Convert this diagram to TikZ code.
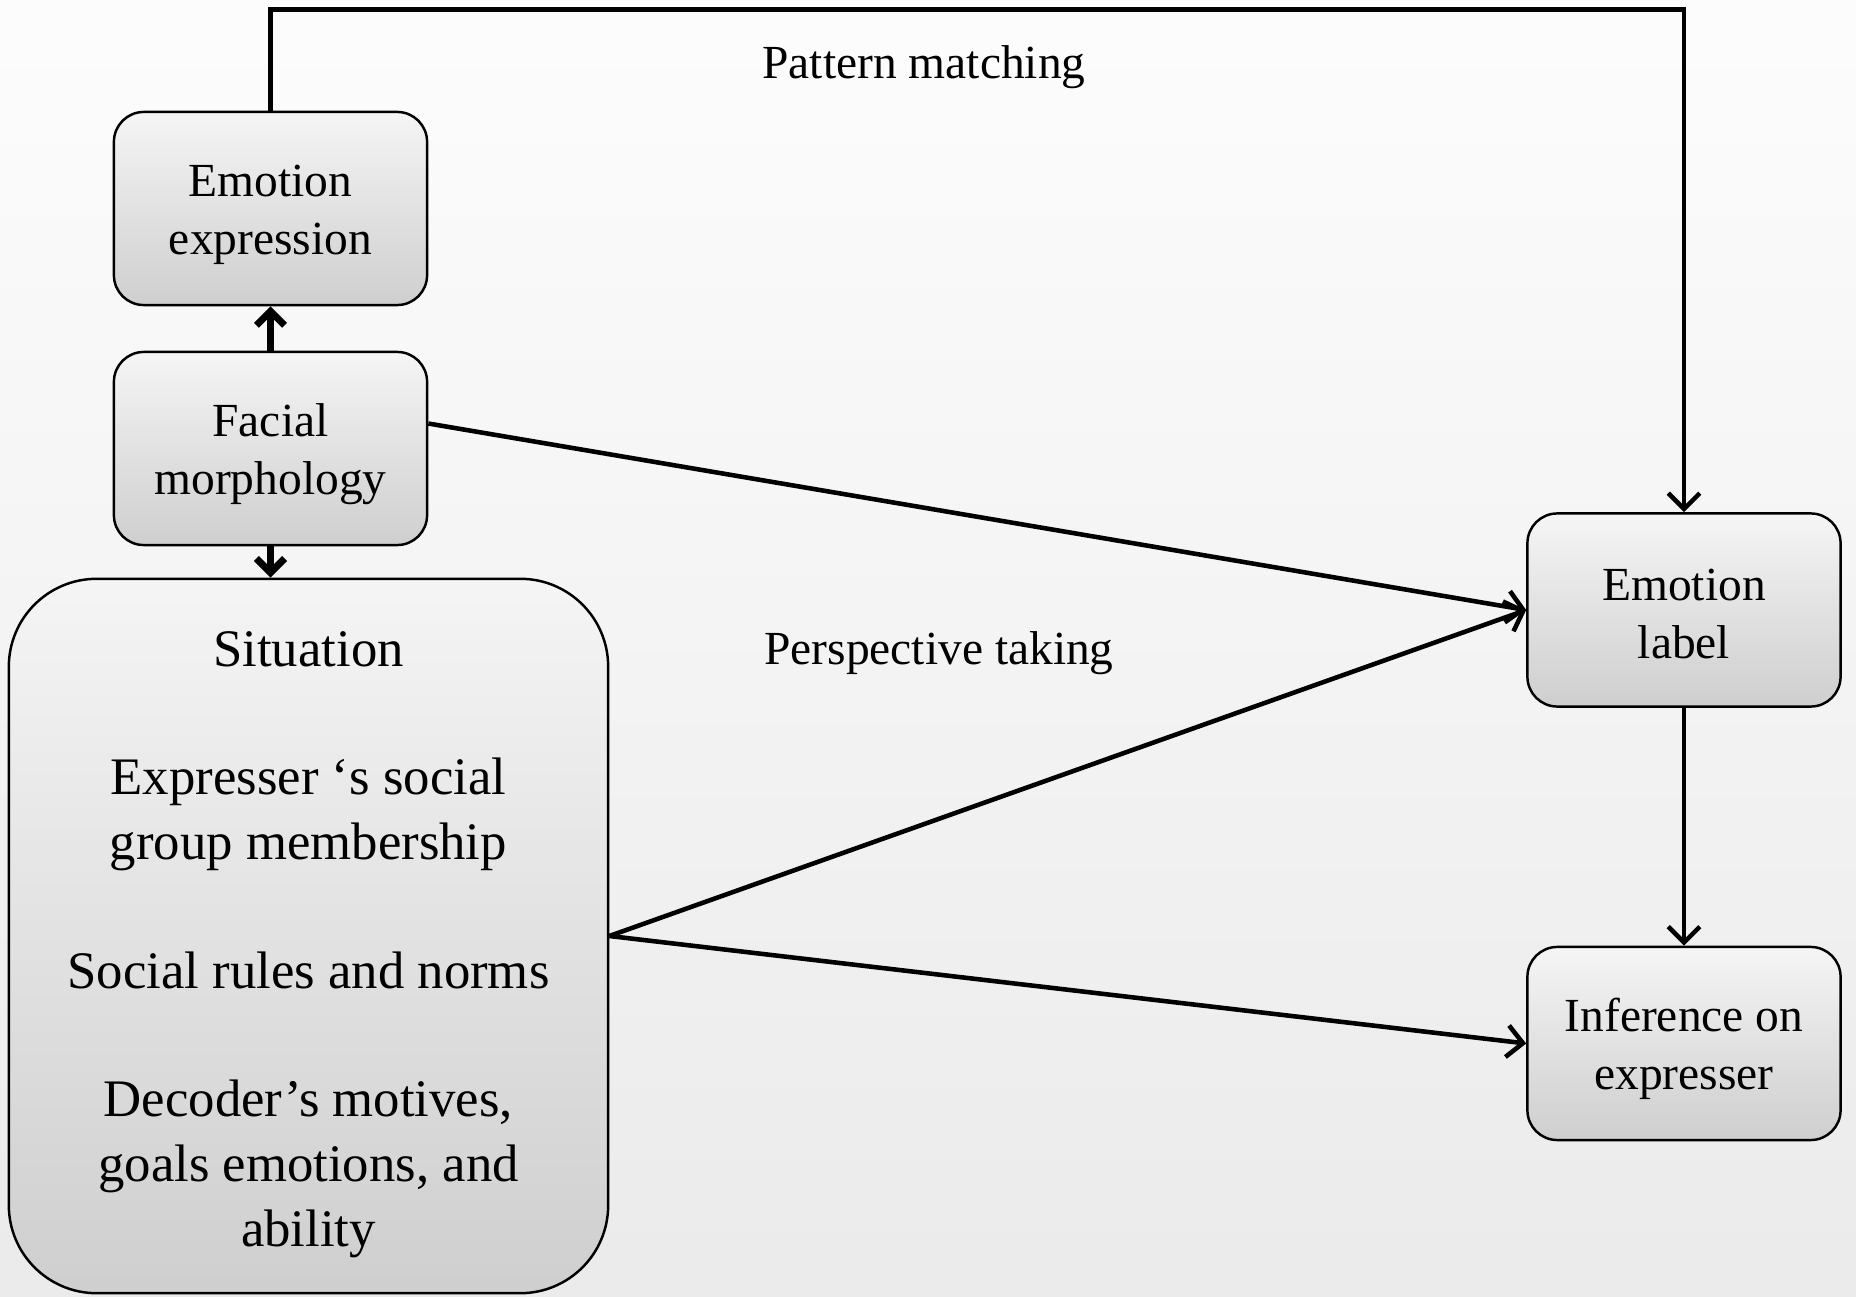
\documentclass[tikz,border=0pt]{standalone}
\usepackage{fontspec}
\setmainfont{Liberation Serif}
\usetikzlibrary{arrows.meta}
\newcommand{\upstrut}[1]{\rule{0pt}{#1}}

\begin{document}
\begin{tikzpicture}[x=0.01cm,y=-0.01cm,
  box/.style={draw=black,line width=0.7pt,rounded corners=8.5pt,
    top color=gray!8,bottom color=gray!38,align=center,inner sep=0pt,
    minimum width=3.13cm,minimum height=1.93cm,
    font=\fontsize{13.5}{16.5}\selectfont},
  bigbox/.style={box,rounded corners=25pt,minimum width=5.99cm,
    minimum height=7.14cm,font=\fontsize{15}{18.5}\selectfont},
  flow/.style={line width=1.3pt,-{Straight Barb[length=4.5pt,width=9pt]}},
  shortflow/.style={line width=2pt,-{Straight Barb[length=4pt,width=8pt]}},
  tag/.style={font=\fontsize{13.5}{16.5}\selectfont}]
\useasboundingbox (0,0) rectangle (1856,1297);
\fill[top color=gray!2,bottom color=gray!16] (0,0) rectangle (1856,1297);
  % left column
  \node[box] (expr) at (270.5,208.5) {\upstrut{12.5pt}Emotion\\expression};
  \node[box] (facial) at (270.5,448.5) {\upstrut{12.5pt}Facial\\morphology};
  \node[bigbox] (sit) at (308.5,936) {\upstrut{15pt}Situation\\[18pt]Expresser ‘s social\\group membership\\[18pt]Social rules and norms\\[18pt]Decoder’s motives,\\goals emotions, and\\ability};
  % right column
  \node[box] (label) at (1684,610) {\upstrut{11pt}Emotion\\label};
  \node[box] (infer) at (1684,1043.5) {\upstrut{12.5pt}Inference on\\expresser};
  \coordinate (corner) at (1684,9.5);
  % labels
  \node[tag] (pm) at (924,67) {Pattern matching};
  \node[tag] (pt) at (939,653) {Perspective taking};
  % arrows
  \draw[shortflow] (facial.north) -- (expr.south);
  \draw[shortflow] (facial.south) -- (facial.south |- sit.north);
  \draw[flow] (expr.north) |- (corner) -- (label.north);
  \draw[flow] (facial.9) -- (label.west);
  \draw[flow] (sit.east) -- (label.west);
  \draw[flow] (sit.east) -- (infer.west);
  \draw[flow] (label.south) -- (infer.north);
\end{tikzpicture}
\end{document}
